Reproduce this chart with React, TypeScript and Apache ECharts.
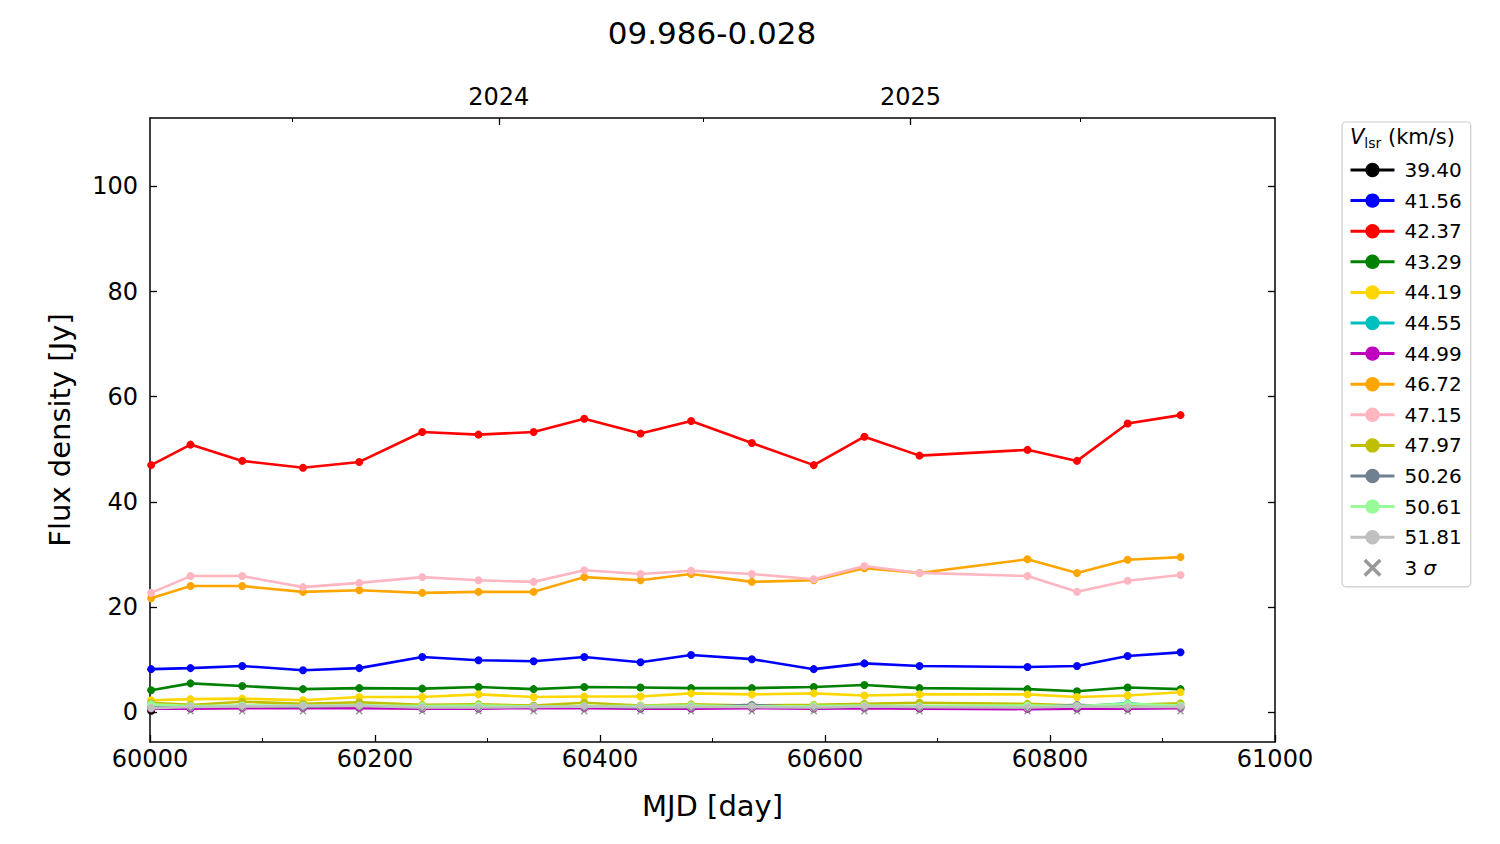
import React, { useEffect, useRef } from "react";
import * as echarts from "echarts";

// Observation epochs (MJD)
const mjd = [60001, 60036, 60082, 60136, 60186, 60242, 60292, 60341, 60386, 60436, 60481, 60535, 60590, 60635, 60684, 60780, 60824, 60869, 60916];

// Velocity channel labels (km/s)
const vlsrLabels = ["39.40", "41.56", "42.37", "43.29", "44.19", "44.55", "44.99", "46.72", "47.15", "47.97", "50.26", "50.61", "51.81"];
const vlsrColors = ["#000000", "#0000ff", "#ff0000", "#008000", "#ffd700", "#00bfbf", "#bf00bf", "#ffa500", "#ffb6c1", "#bfbf00", "#708090", "#98fb98", "#c0c0c0"];

// Flux densities (Jy) per channel
const f3940 = [0.3, null, null, null, null, null, null, null, null, null, null, null, null, null, null, null, null, null, null];
const f4156 = [8.2, 8.4, 8.8, 8.0, 8.4, 10.5, 9.9, 9.7, 10.5, 9.5, 10.9, 10.1, 8.2, 9.3, 8.8, 8.6, 8.8, 10.7, 11.4];
const f4237 = [47.0, 50.9, 47.8, 46.5, 47.6, 53.3, 52.8, 53.3, 55.8, 53.0, 55.4, 51.2, 47.0, 52.4, 48.8, 49.9, 47.8, 54.9, 56.5];
const f4329 = [4.2, 5.5, 5.0, 4.4, 4.6, 4.5, 4.8, 4.4, 4.8, 4.7, 4.6, 4.6, 4.8, 5.2, 4.6, 4.4, 4.0, 4.7, 4.4];
const f4419 = [2.3, 2.5, 2.6, 2.3, 2.9, 2.9, 3.4, 2.9, 3.0, 3.0, 3.6, 3.4, 3.6, 3.2, 3.4, 3.4, 2.9, 3.2, 3.8];
const f4455 = [1.0, 0.9, 1.0, 1.1, 1.1, 0.9, 1.0, 1.0, 1.1, 1.0, 1.0, 1.0, 0.9, 1.1, 1.0, 0.9, 1.1, 1.7, 1.0];
const f4499 = [0.7, 0.7, 0.8, 0.8, 0.8, 0.7, 0.7, 0.8, 0.8, 0.7, 0.7, 0.8, 0.7, 0.8, 0.7, 0.6, 0.7, 0.7, 0.8];
const f4672 = [21.7, 24.0, 24.0, 22.9, 23.2, 22.7, 22.9, 22.9, 25.7, 25.1, 26.3, 24.8, 25.1, 27.4, 26.5, 29.1, 26.5, 29.0, 29.5];
const f4715 = [22.7, 25.9, 25.9, 23.8, 24.6, 25.7, 25.1, 24.8, 27.0, 26.3, 26.9, 26.3, 25.3, 27.8, 26.5, 25.9, 22.9, 25.0, 26.1];
const f4797 = [1.8, 1.4, 2.0, 1.6, 1.9, 1.4, 1.5, 1.3, 1.8, 1.3, 1.5, 1.3, 1.4, 1.6, 1.8, 1.6, 1.3, 1.4, 1.7];
const f5026 = [1.0, 1.1, 1.2, 1.0, 1.3, 0.9, 1.0, 1.1, 1.1, 0.9, 1.0, 1.4, 0.9, 1.1, 1.0, 1.0, 1.4, 1.0, 1.1];
const f5061 = [1.5, 1.2, 1.3, 1.3, 1.3, 1.2, 1.3, 1.1, 1.2, 1.2, 1.3, 1.1, 1.2, 1.3, 1.2, 1.3, 1.2, 1.6, 1.3];
const f5181 = [0.8, 1.0, 1.1, 1.2, 1.2, 0.9, 0.9, 1.0, 1.1, 1.0, 1.0, 1.0, 0.9, 1.1, 1.0, 0.9, 1.1, 1.0, 1.0];
const fluxByChannel = [f3940, f4156, f4237, f4329, f4419, f4455, f4499, f4672, f4715, f4797, f5026, f5061, f5181];

// 3-sigma upper limits (non-detections)
const sigmaMjd = [60036, 60082, 60136, 60186, 60242, 60292, 60341, 60386, 60436, 60481, 60535, 60590, 60635, 60684, 60780, 60824, 60869, 60916];
const sigmaLevels = [0.2, 0.2, 0.2, 0.2, 0.2, 0.2, 0.2, 0.2, 0.2, 0.2, 0.2, 0.2, 0.2, 0.2, 0.2, 0.2, 0.2, 0.2];

// Axis ticks
const fluxTicks = [0, 20, 40, 60, 80, 100];
const yearTicks = [60310, 60676];
const yearLabels = ["2024", "2025"];
const halfYearTicks = [60126, 60492, 60827];

const FONT = "DejaVu Sans";
const CROSS = "path://M0,1.4L1.4,0L5,3.6L8.6,0L10,1.4L6.4,5L10,8.6L8.6,10L5,6.4L1.4,10L0,8.6L3.6,5Z";

export default function App() {
  const ref = useRef<HTMLDivElement>(null);
  useEffect(() => {
    if (!ref.current) return;
    const chart = echarts.init(ref.current, null, { renderer: "svg" });
    const lineSeries = vlsrLabels.map((name, k) => ({
      name,
      type: "line",
      xAxisIndex: 0,
      yAxisIndex: 0,
      data: mjd.map((x, i) => [x, fluxByChannel[k][i]]),
      connectNulls: false,
      symbol: "circle",
      symbolSize: 8,
      showSymbol: true,
      color: vlsrColors[k],
      lineStyle: { color: vlsrColors[k], width: 2.6 },
      itemStyle: { color: vlsrColors[k] },
      z: 2 + k,
    }));
    const crossSeries = {
      name: "3σ",
      type: "scatter",
      xAxisIndex: 0,
      yAxisIndex: 0,
      data: sigmaMjd.map((x, i) => [x, sigmaLevels[i]]),
      symbol: CROSS,
      symbolSize: 7,
      color: "#808080",
      itemStyle: { color: "#808080" },
      z: 20,
    };
    const tickLabelStyle = { fontFamily: FONT, fontSize: 24, color: "#000" };
    const axisLine = { show: true, onZero: false, lineStyle: { color: "#000", width: 1.5 } };
    chart.setOption({
      animation: false,
      backgroundColor: "#ffffff",
      textStyle: { fontFamily: FONT },
      title: {
        text: "09.986-0.028",
        left: 707,
        top: 12,
        textAlign: "center",
        textStyle: { fontFamily: FONT, fontSize: 31, fontWeight: "normal", color: "#000" },
      },
      grid: { left: 150, right: 225, top: 118, bottom: 102, containLabel: false },
      xAxis: [
        {
          type: "value",
          position: "bottom",
          min: 60000,
          max: 61000,
          interval: 200,
          axisLine,
          axisTick: { show: true, inside: true, length: 7, lineStyle: { color: "#000", width: 1.3 } },
          minorTick: { show: true, splitNumber: 2, length: 4, lineStyle: { color: "#000", width: 1 } },
          axisLabel: { ...tickLabelStyle, margin: 5, formatter: (v: number) => String(v) },
          splitLine: { show: false },
          name: "MJD [day]",
          nameLocation: "middle",
          nameGap: 49,
          nameTextStyle: { fontFamily: FONT, fontSize: 29, color: "#000" },
        },
        {
          type: "value",
          position: "top",
          min: 60000,
          max: 61000,
          axisLine,
          axisTick: { show: true, inside: true, length: 7, customValues: yearTicks, lineStyle: { color: "#000", width: 1.3 } },
          axisLabel: {
            ...tickLabelStyle,
            margin: 9,
            customValues: yearTicks,
            formatter: (v: number) => yearLabels[yearTicks.indexOf(v)] ?? "",
          },
          splitLine: { show: false },
        },
        {
          type: "value",
          position: "top",
          min: 60000,
          max: 61000,
          axisLine: { show: false, onZero: false },
          axisTick: { show: true, inside: true, length: 4, customValues: halfYearTicks, lineStyle: { color: "#000", width: 1 } },
          axisLabel: { show: false },
          splitLine: { show: false },
        },
      ],
      yAxis: [
        {
          type: "value",
          position: "left",
          min: -5.65,
          max: 113,
          axisLine,
          axisTick: { show: true, inside: true, length: 7, customValues: fluxTicks, lineStyle: { color: "#000", width: 1.3 } },
          axisLabel: { ...tickLabelStyle, margin: 12, customValues: fluxTicks, formatter: (v: number) => String(v) },
          splitLine: { show: false },
          name: "Flux density [Jy]",
          nameLocation: "middle",
          nameGap: 76,
          nameTextStyle: { fontFamily: FONT, fontSize: 29, color: "#000" },
        },
        {
          type: "value",
          position: "right",
          min: -5.65,
          max: 113,
          axisLine,
          axisTick: { show: true, inside: true, length: 7, customValues: fluxTicks, lineStyle: { color: "#000", width: 1.3 } },
          axisLabel: { show: false },
          splitLine: { show: false },
        },
      ],
      legend: {
        orient: "vertical",
        left: 1342,
        top: 122,
        padding: [38, 9, 9, 7],
        backgroundColor: "#ffffff",
        borderColor: "#cccccc",
        borderWidth: 1.2,
        borderRadius: 4,
        itemWidth: 44,
        itemHeight: 18,
        itemGap: 10.6,
        lineStyle: { width: 3 },
        data: [...vlsrLabels, "3σ"],
        formatter: (name: string) => (name === "3σ" ? "3 {i|σ}" : name),
        textStyle: {
          fontFamily: FONT,
          fontSize: 20,
          lineHeight: 20,
          color: "#000",
          padding: [0, 0, 0, 5],
          rich: { i: { fontFamily: FONT, fontSize: 20, fontStyle: "italic", color: "#000" } },
        },
      },
      graphic: [
        {
          type: "text",
          left: 1350,
          top: 126,
          z: 100,
          style: {
            text: "{v|V}{s|lsr}{n| (km/s)}",
            rich: {
              v: { fontFamily: FONT, fontSize: 21, fontStyle: "italic", fill: "#000", verticalAlign: "bottom" },
              s: { fontFamily: FONT, fontSize: 14, fill: "#000", verticalAlign: "bottom", padding: [0, 0, -3, 0] },
              n: { fontFamily: FONT, fontSize: 21, fill: "#000", verticalAlign: "bottom" },
            },
          },
        },
      ],
      series: [...lineSeries, crossSeries],
    });
    return () => chart.dispose();
  }, []);
  return <div ref={ref} style={{ position: "fixed", left: 0, top: 0, width: 1500, height: 844 }} />;
}
